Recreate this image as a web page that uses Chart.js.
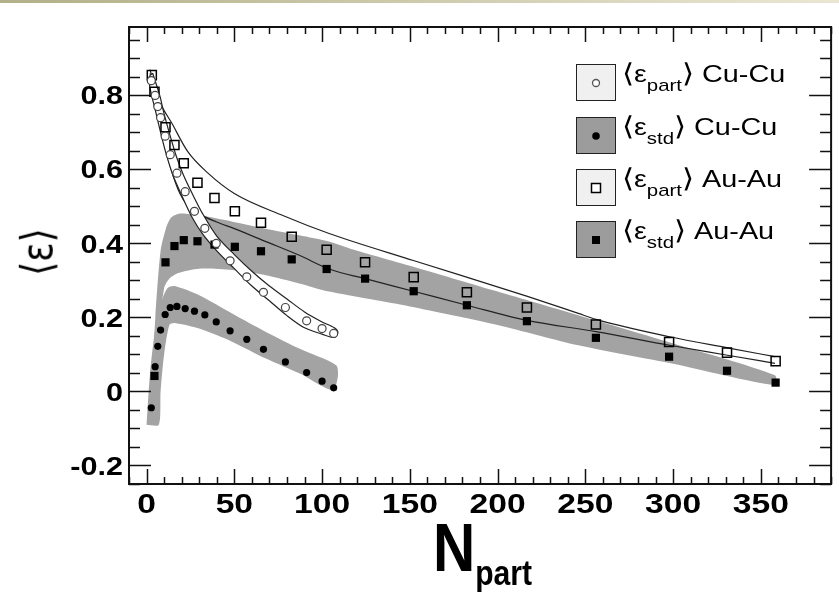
<!DOCTYPE html>
<html>
<head>
<meta charset="utf-8">
<script src="https://cdn.jsdelivr.net/npm/chart.js@4.4.1/dist/chart.umd.min.js"></script>
<style>
  body { margin: 0; background: #fff; width: 839px; height: 601px; overflow: hidden; position: relative;
         font-family: "Liberation Sans", Arial, sans-serif; }
  #topbar { position: absolute; left: 0; top: 0; width: 839px; height: 3px;
            background: linear-gradient(to right, #b2b088, #e9e7d3); }
  #chart { position: absolute; left: 0; top: 0; }
  .box { position: absolute; left: 576px; width: 38px; height: 35px; border: 1.5px solid #222; }
  .box.part { background: #f0f0f0; }
  .box.std { background: #9c9c9c; }
  .mk { position: absolute; left: 50%; top: 50%; transform: translate(-50%, -50%); line-height: 0; }
  .lbl { position: absolute; left: 622px; font-size: 24px; color: #000; white-space: nowrap; line-height: 24px;
         transform: scaleX(1.2); transform-origin: 0 0; }
  .lbl .br { font-family: "DejaVu Sans", sans-serif; font-size: 26px; font-weight: 300; line-height: 0; }
  .lbl sub { font-size: 17px; vertical-align: -9px; line-height: 0; }
  #ytitle { position: absolute; left: 37px; top: 252px; transform: translate(-50%, -50%) scaleX(1.2) rotate(-90deg);
            font-size: 36px; line-height: 36px; white-space: nowrap; font-family: "DejaVu Sans", sans-serif; }
  #xtitle { position: absolute; left: 433px; top: 513px; font-weight: bold; white-space: nowrap; line-height: 1;
            transform: scaleX(0.86); transform-origin: 0 0; }
  #xtitle .n { font-size: 68px; }
  #xtitle sub { font-size: 35px; vertical-align: -14px; }
</style>
</head>
<body>
<div id="topbar"></div>
<canvas id="chart" width="839" height="601"></canvas>
<div id="ytitle">⟨ε⟩</div>
<div id="xtitle"><span class="n">N</span><sub>part</sub></div>
<div id="legend"></div>
<script>
// Cu-Cu points
const cuN = [2.7, 4.9, 6.4, 8.0, 10.6, 13.5, 17.3, 22, 27.3, 33.2, 39.7, 47.6, 57.1, 66.6, 79.1, 91.2, 100, 106.6];
const cuPart = [0.84, 0.80, 0.77, 0.74, 0.69, 0.64, 0.59, 0.54, 0.487, 0.441, 0.40, 0.353, 0.310, 0.268, 0.227, 0.191, 0.170, 0.157];
const cuStd = [-0.044, 0.067, 0.122, 0.166, 0.208, 0.227, 0.230, 0.224, 0.217, 0.207, 0.188, 0.164, 0.141, 0.114, 0.080, 0.051, 0.028, 0.010];

// Au-Au points
const auN = [3.0, 4.5, 10.8, 15.9, 21.2, 29.0, 38.7, 50.3, 65.2, 82.7, 102.6, 124.5, 152.2, 182.5, 216.7, 256, 297.7, 330.7, 358.4];
const auPart = [0.855, 0.81, 0.714, 0.666, 0.617, 0.564, 0.523, 0.487, 0.456, 0.418, 0.383, 0.349, 0.309, 0.268, 0.227, 0.181, 0.134, 0.105, 0.082];
const auStd = [null, 0.042, 0.349, 0.393, 0.409, 0.406, 0.397, 0.391, 0.379, 0.357, 0.331, 0.305, 0.271, 0.233, 0.190, 0.145, 0.094, 0.056, 0.024];

// outline of the Cu-Cu eps_part band (upper edge, then lower edge back)
const cuBandN = [3.5, 7.5, 10, 13.5, 17, 21, 26, 32, 40, 50, 60, 70, 80, 90, 100, 107, 109,
                 107, 100, 90, 80, 70, 60, 50, 40, 32, 26, 20, 15, 11, 8, 5, 2, 1.5, 3.5];
const cuBandE = [0.86, 0.80, 0.75, 0.69, 0.635, 0.585, 0.535, 0.48, 0.42, 0.37, 0.325, 0.285, 0.25, 0.215, 0.188, 0.172, 0.16,
                 0.146, 0.155, 0.172, 0.205, 0.245, 0.285, 0.332, 0.38, 0.425, 0.47, 0.53, 0.585, 0.645, 0.70, 0.76, 0.82, 0.85, 0.86];

// Au-Au curves (upper one above the open squares, lower one crossing into the filled squares)
const auUpN = [2, 6, 15, 23.5, 35, 50, 78, 104, 152, 217, 246, 256, 298, 331, 358];
const auUpE = [0.87, 0.80, 0.72, 0.648, 0.59, 0.535, 0.475, 0.427, 0.354, 0.257, 0.211, 0.195, 0.148, 0.118, 0.094];
const auLoN = [2, 5, 10, 15, 19, 23, 30, 40, 50, 68, 87, 104, 124.5, 152, 182.5, 216.7, 256, 298, 331, 358];
const auLoE = [0.86, 0.78, 0.67, 0.585, 0.535, 0.505, 0.48, 0.458, 0.44, 0.405, 0.368, 0.331, 0.305, 0.271, 0.233, 0.192, 0.162, 0.125, 0.098, 0.076];

// grey eps_std bands (polygons)
const cuStdBandN = [0, 2, 5, 9, 12, 16, 30, 49, 68, 87, 108, 109, 106, 87, 68, 49, 30, 16, 13, 10, 8, 7, 0];
const cuStdBandE = [-0.09, 0.05, 0.17, 0.25, 0.28, 0.285, 0.26, 0.21, 0.161, 0.116, 0.071, 0.04, 0.003, 0.049, 0.089, 0.134, 0.17, 0.185, 0.18, 0.10, 0.0, -0.09, -0.09];
const auStdBandN = [3, 5, 8, 11, 14, 19, 30, 49, 68, 87, 104, 116, 150, 200, 246, 300, 358, 358, 300, 246, 200, 150, 104, 87, 68, 49, 30, 18, 13, 10, 7, 4, 3];
const auStdBandE = [0.0, 0.2, 0.38, 0.44, 0.47, 0.481, 0.476, 0.459, 0.44, 0.422, 0.405, 0.386, 0.34, 0.27, 0.206, 0.13, 0.044, 0.017, 0.075, 0.125, 0.18, 0.23, 0.27, 0.292, 0.314, 0.328, 0.332, 0.32, 0.305, 0.28, 0.15, -0.02, 0.0];

const xTicks = [0, 50, 100, 150, 200, 250, 300, 350];
const yTicks = [-0.2, 0, 0.2, 0.4, 0.6, 0.8];
const yTickLabels = ['-0.2', '0', '0.2', '0.4', '0.6', '0.8'];

const pts = (xs, ys) => xs.map((x, i) => ({x: x, y: ys[i]})).filter(p => p.y !== null);

// ROOT-like frame: ticks pointing inward on all four sides, stretched tick labels
const frameTicks = {
  id: 'frameTicks',
  afterDatasetsDraw(chart) {
    const {ctx, chartArea: a, scales: {x, y}} = chart;
    ctx.save();
    ctx.strokeStyle = '#111';
    ctx.lineWidth = 1.5;
    ctx.beginPath();
    for (let v = -10; v <= 390; v += 10) {
      const px = Math.round(x.getPixelForValue(v)) + 0.5;
      const len = v % 50 === 0 ? 15 : 7;
      ctx.moveTo(px, a.bottom); ctx.lineTo(px, a.bottom - len);
      ctx.moveTo(px, a.top); ctx.lineTo(px, a.top + len);
    }
    for (let k = -5; k <= 19; k++) {
      const py = Math.round(y.getPixelForValue(k * 0.05)) + 0.5;
      const len = k % 4 === 0 ? 22 : 11;
      ctx.moveTo(a.left, py); ctx.lineTo(a.left + len, py);
      ctx.moveTo(a.right, py); ctx.lineTo(a.right - len, py);
    }
    ctx.stroke();
    ctx.lineWidth = 2;
    ctx.strokeRect(a.left, a.top, a.right - a.left, a.bottom - a.top);

    ctx.fillStyle = '#000';
    ctx.font = 'bold 25.5px "Liberation Sans", Arial, sans-serif';
    ctx.textAlign = 'right';
    ctx.textBaseline = 'middle';
    yTicks.forEach((v, i) => {
      ctx.save();
      ctx.translate(a.left - 6, y.getPixelForValue(v) + 2);
      ctx.scale(1.2, 1);
      ctx.fillText(yTickLabels[i], 0, 0);
      ctx.restore();
    });
    ctx.font = 'bold 28px "Liberation Sans", Arial, sans-serif';
    ctx.textAlign = 'center';
    ctx.textBaseline = 'alphabetic';
    xTicks.forEach(v => {
      ctx.save();
      ctx.translate(x.getPixelForValue(v), a.bottom + 9 + 20);
      ctx.scale(1.2, 1);
      ctx.fillText(String(v), 0, 0);
      ctx.restore();
    });
    ctx.restore();
  }
};

new Chart(document.getElementById('chart'), {
  type: 'scatter',
  data: {
    datasets: [
      { data: pts(cuN, cuPart), pointStyle: 'circle', pointRadius: 4, borderWidth: 1.2,
        pointBorderColor: '#444', pointBackgroundColor: '#fff', order: 0 },
      { data: pts(cuN, cuStd), pointStyle: 'circle', pointRadius: 3.6, borderWidth: 0,
        pointBackgroundColor: '#000', pointBorderColor: '#000', order: 0 },
      { data: pts(auN, auPart), pointStyle: 'rect', pointRadius: 6.4, borderWidth: 1.5,
        pointBorderColor: '#000', pointBackgroundColor: 'rgba(255,255,255,0)', order: 0 },
      { data: pts(auN, auStd), pointStyle: 'rect', pointRadius: 5.8, borderWidth: 0,
        pointBackgroundColor: '#000', pointBorderColor: '#000', order: 0 },
      { data: pts(cuBandN, cuBandE), showLine: true, pointRadius: 0, borderColor: '#222', borderWidth: 1.2,
        backgroundColor: '#fff', fill: 'shape', tension: 0.3, order: 1 },
      { data: pts(auUpN, auUpE), showLine: true, pointRadius: 0, borderColor: '#222', borderWidth: 1.2,
        fill: false, cubicInterpolationMode: 'monotone', order: 1 },
      { data: pts(auLoN, auLoE), showLine: true, pointRadius: 0, borderColor: '#222', borderWidth: 1.2,
        fill: false, cubicInterpolationMode: 'monotone', order: 1 },
      { data: pts(cuStdBandN, cuStdBandE), showLine: true, pointRadius: 0, borderWidth: 0, borderColor: 'rgba(0,0,0,0)',
        backgroundColor: '#a3a3a3', fill: 'shape', tension: 0.25, order: 2 },
      { data: pts(auStdBandN, auStdBandE), showLine: true, pointRadius: 0, borderWidth: 0, borderColor: 'rgba(0,0,0,0)',
        backgroundColor: '#a3a3a3', fill: 'shape', tension: 0.25, order: 2 }
    ]
  },
  options: {
    responsive: false,
    animation: false,
    layout: { padding: { top: 27, right: 7, left: 0, bottom: 0 } },
    plugins: { legend: { display: false }, tooltip: { enabled: false } },
    scales: {
      x: {
        type: 'linear', min: -10, max: 390,
        afterBuildTicks: s => { s.ticks = xTicks.map(v => ({ value: v })); },
        afterFit: s => { s.height = 117; },
        grid: { display: false, drawTicks: false },
        border: { display: false },
        ticks: { display: false }
      },
      y: {
        type: 'linear', min: -0.25, max: 0.985,
        afterBuildTicks: s => { s.ticks = yTicks.map(v => ({ value: v })); },
        afterFit: s => { s.width = 129; },
        grid: { display: false, drawTicks: false },
        border: { display: false },
        ticks: { display: false }
      }
    }
  },
  plugins: [frameTicks]
});

// legend
const legendRows = [
  { cls: 'part', top: 64, mk: '<svg width="10" height="10"><circle cx="5" cy="5" r="3.5" fill="#fff" stroke="#555" stroke-width="1.3"/></svg>', sub: 'part', sys: 'Cu-Cu' },
  { cls: 'std', top: 117, mk: '<svg width="10" height="10"><circle cx="5" cy="5" r="3.8" fill="#000"/></svg>', sub: 'std', sys: 'Cu-Cu' },
  { cls: 'part', top: 169, mk: '<svg width="12" height="12"><rect x="1.5" y="1.5" width="9" height="9" fill="#fff" stroke="#000" stroke-width="1.5"/></svg>', sub: 'part', sys: 'Au-Au' },
  { cls: 'std', top: 221, mk: '<svg width="10" height="10"><rect x="1" y="1" width="8" height="8" fill="#000"/></svg>', sub: 'std', sys: 'Au-Au' }
];
const legend = document.getElementById('legend');
legendRows.forEach(r => {
  const b = document.createElement('div');
  b.className = 'box ' + r.cls;
  b.style.top = r.top + 'px';
  b.innerHTML = '<div class="mk">' + r.mk + '</div>';
  legend.appendChild(b);
  const t = document.createElement('div');
  t.className = 'lbl';
  t.style.top = (r.top - 2) + 'px';
  t.innerHTML = '<span class="br">⟨</span>ε<sub>' + r.sub + '</sub><span class="br">⟩</span> ' + r.sys;
  legend.appendChild(t);
});
</script>
</body>
</html>
